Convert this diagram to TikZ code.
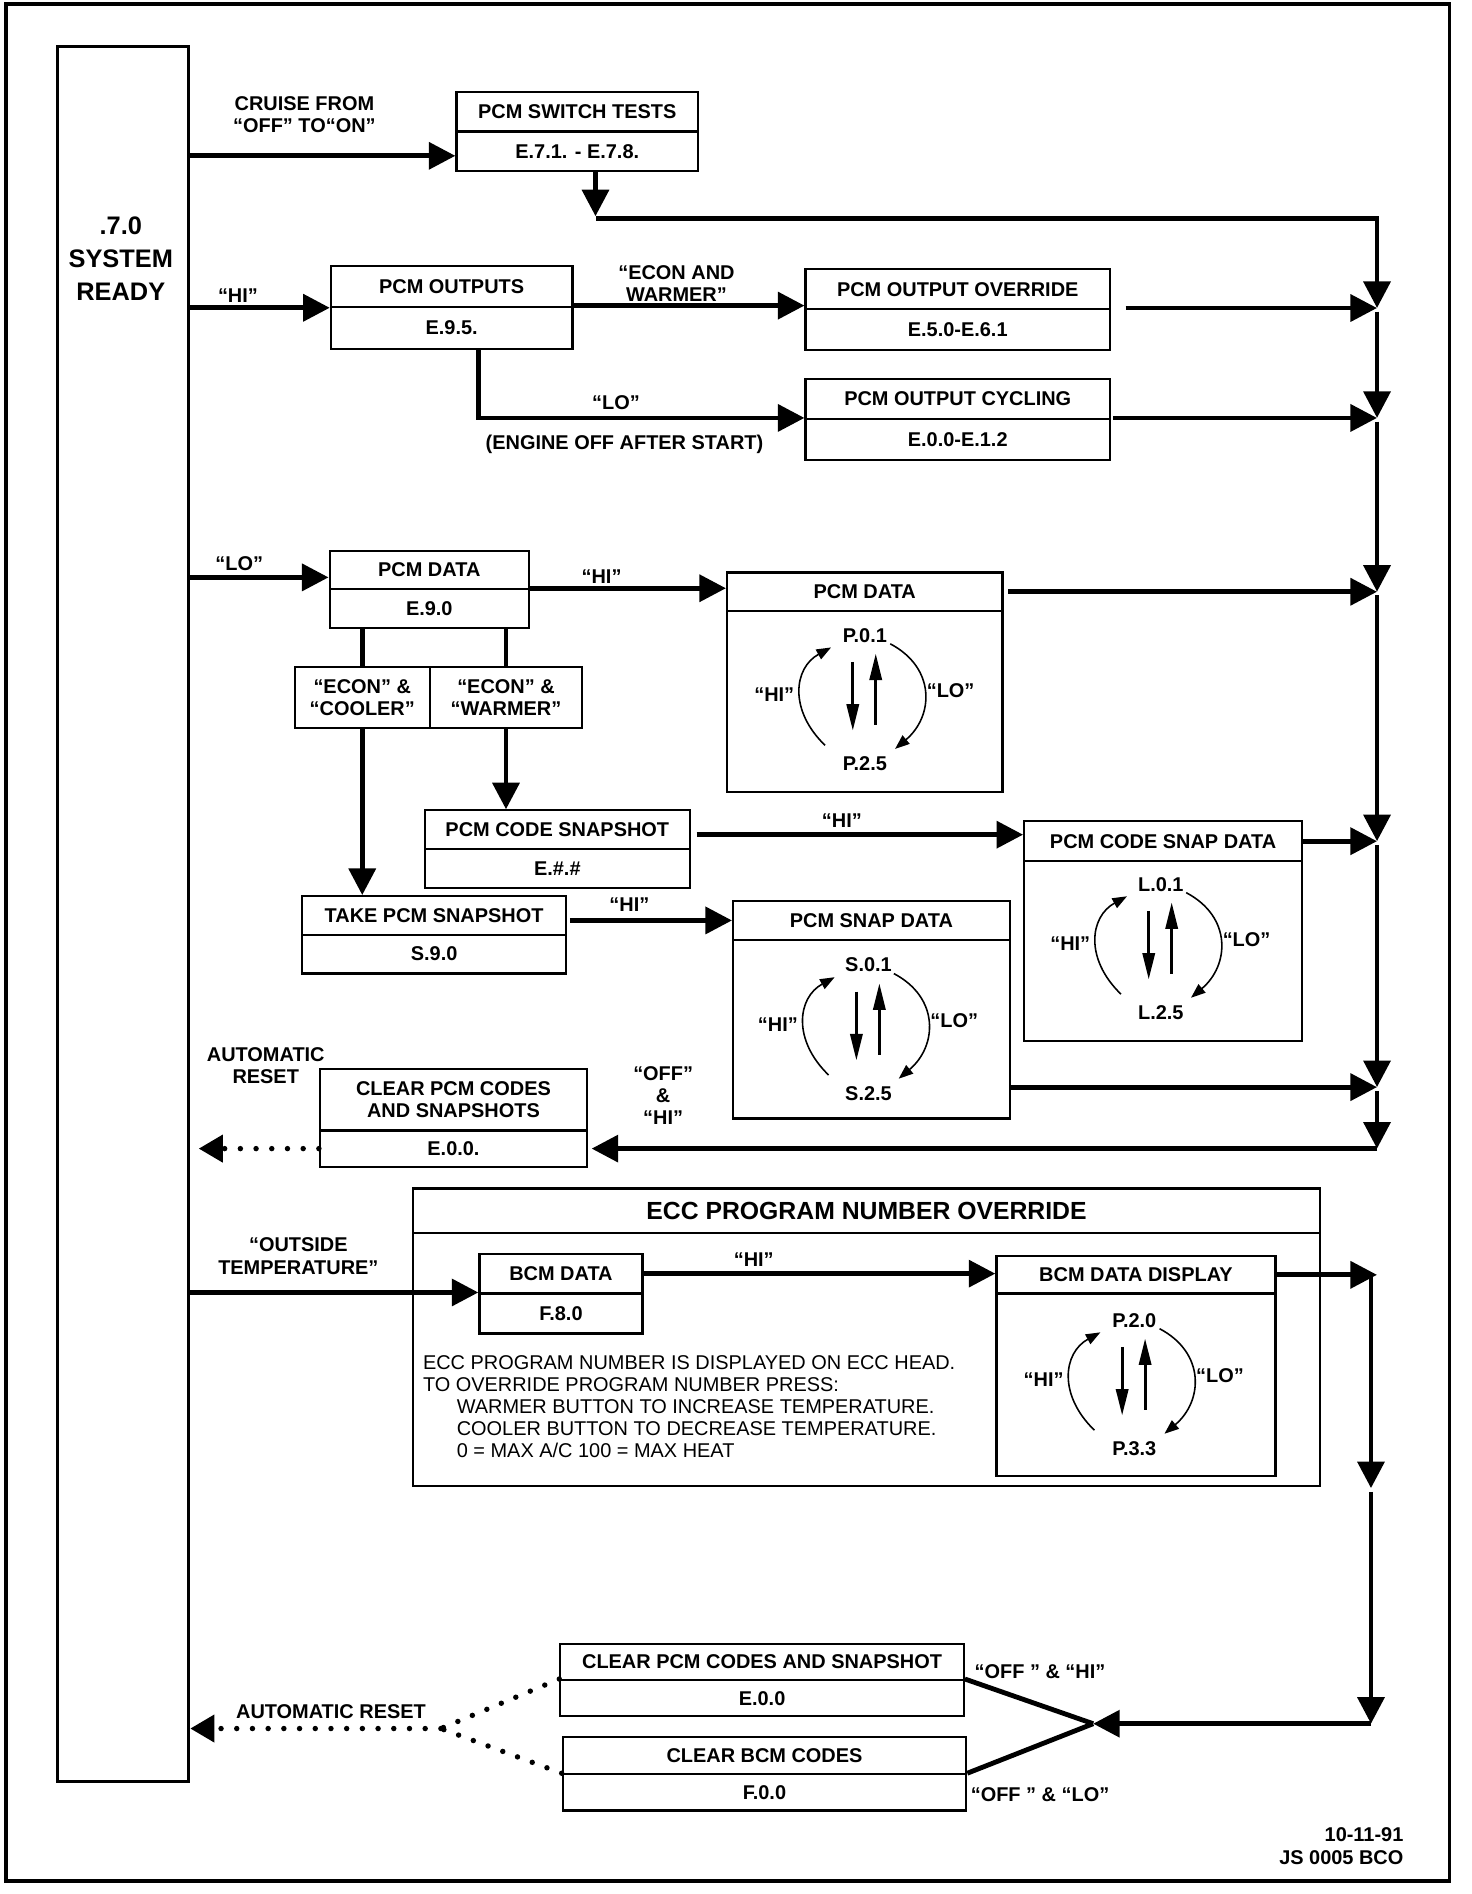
\documentclass[tikz,border=0pt]{standalone}
\usepackage{fontspec}
\setmainfont{Liberation Sans}
\usetikzlibrary{arrows.meta,calc}
\tikzset{
  bx/.style={draw,line width=1.8pt,inner sep=0pt,align=center,font=\fontsize{16.5}{18.5}\selectfont\bfseries},
  lbl/.style={inner sep=0pt,align=center,font=\fontsize{16.5}{18.5}\selectfont\bfseries},
  ln/.style={line width=4pt},
  arr/.style={line width=4pt,-{Triangle[length=22pt,width=22pt]}},
  dotln/.style={line width=4.5pt,line cap=round,dash pattern=on 0pt off 13pt},
  dotarr/.style={dotln,-{Triangle[length=20pt,width=22pt]}},
  sarr/.style={line width=2.6pt,-{Triangle[length=22pt,width=10pt]}},
  carr/.style={line width=1.3pt,-{Triangle[length=12pt,width=9pt]}},
}
\newcommand\bxn[6]{%
  \pgfmathsetmacro\mybw{#4-#2}\pgfmathsetmacro\mybh{#5-#3}%
  \node[bx,minimum width=\mybw pt,minimum height=\mybh pt,anchor=north west] (#1) at (#2,#3) {#6};}
\newcommand\loopd[5]{%
  \begin{scope}[shift={(#2,#3)}]
    \node[lbl] (#1t) at (1,-52) {#4};
    \node[lbl] (#1b) at (1,54) {#5};
    \node[lbl] (#1h) at (-74,-3) {“HI”};
    \node[lbl] (#1l) at (72,-6) {“LO”};
    \draw[sarr] (-9,-30) -- (-9,27);
    \draw[sarr] (10,22) -- (10,-37);
    \draw[carr] (-32,39) .. controls (-62,10) and (-58,-25) .. (-27,-42);
    \draw[carr] (22,-45) .. controls (60,-25) and (58,15) .. (26,42);
  \end{scope}}
\begin{document}
\begin{tikzpicture}[x=1pt,y=-1pt]
\useasboundingbox (0,0) rectangle (1218,1568);
% outer frame
\draw[line width=3.2pt] (5,3) rectangle (1200,1557);
% system ready
\node[draw,line width=2.5pt,minimum width=109pt,minimum height=1437pt,anchor=north west,inner sep=0pt] (ready) at (46,37) {};
\node[lbl,font=\fontsize{21}{27.5}\selectfont\bfseries] (rtxt) at (100,214) {.7.0\\SYSTEM\\READY};

% boxes
\bxn{sw}{377}{75}{577}{108}{PCM SWITCH TESTS}
\bxn{sws}{377}{108}{577}{141}{E.7.1. - E.7.8.}
\bxn{po}{273}{219}{473}{253}{PCM OUTPUTS}
\bxn{pos}{273}{253}{473}{288}{E.9.5.}
\bxn{ov}{666}{222}{918}{255}{PCM OUTPUT OVERRIDE}
\bxn{ovs}{666}{255}{918}{289}{E.5.0-E.6.1}
\bxn{cy}{666}{313}{918}{346}{PCM OUTPUT CYCLING}
\bxn{cys}{666}{346}{918}{380}{E.0.0-E.1.2}
\bxn{pd}{272}{455}{437}{487}{PCM DATA}
\bxn{pds}{272}{487}{437}{519}{E.9.0}
\bxn{ec}{243}{551}{355}{602}{“ECON” \&\\“COOLER”}
\bxn{ew}{355}{551}{481}{602}{“ECON” \&\\“WARMER”}
\bxn{cs}{351}{670}{570}{702}{PCM CODE SNAPSHOT}
\bxn{css}{351}{702}{570}{734}{E.\#.\#}
\bxn{tk}{249}{741}{468}{773}{TAKE PCM SNAPSHOT}
\bxn{tks}{249}{773}{468}{805}{S.9.0}
\bxn{pdd}{601}{473}{829}{505}{PCM DATA}
\bxn{pddb}{601}{505}{829}{655}{}
\bxn{csd}{847}{679}{1077}{712}{PCM CODE SNAP DATA}
\bxn{csdb}{847}{712}{1077}{861}{}
\bxn{sd}{606}{745}{835}{777}{PCM SNAP DATA}
\bxn{sdb}{606}{777}{835}{925}{}
\bxn{cl}{264}{884}{485}{935}{CLEAR PCM CODES\\AND SNAPSHOTS}
\bxn{cls}{264}{935}{485}{965}{E.0.0.}
\node[bx,font=\fontsize{20.5}{23}\selectfont\bfseries,minimum width=751pt,minimum height=37pt,anchor=north west] (ecc) at (341,983) {ECC PROGRAM NUMBER OVERRIDE};
\bxn{eccb}{341}{1020}{1092}{1229}{}
\bxn{bd}{396}{1037}{531}{1070}{BCM DATA}
\bxn{bds}{396}{1070}{531}{1103}{F.8.0}
\bxn{bdd}{824}{1039}{1055}{1070}{BCM DATA DISPLAY}
\bxn{bddb}{824}{1070}{1055}{1221}{}
\bxn{c1}{463}{1360}{797}{1390}{CLEAR PCM CODES AND SNAPSHOT}
\bxn{c1s}{463}{1390}{797}{1420}{E.0.0}
\bxn{c2}{465}{1437}{799}{1468}{CLEAR BCM CODES}
\bxn{c2s}{465}{1468}{799}{1498}{F.0.0}

\node[anchor=north west,inner sep=0pt,align=left,font=\fontsize{16.5}{18.3}\selectfont] (note) at (350,1122)
 {ECC PROGRAM NUMBER IS DISPLAYED ON ECC HEAD.\\TO OVERRIDE PROGRAM NUMBER PRESS:\\\hspace*{28pt}WARMER BUTTON TO INCREASE TEMPERATURE.\\\hspace*{28pt}COOLER BUTTON TO DECREASE TEMPERATURE.\\\hspace*{28pt}0 = MAX A/C 100 = MAX HEAT};

% loop diagrams
\loopd{a}{715}{578}{P.0.1}{P.2.5}
\loopd{b}{960}{784}{L.0.1}{L.2.5}
\loopd{c}{718}{851}{S.0.1}{S.2.5}
\loopd{d}{938}{1145}{P.2.0}{P.3.3}

% labels
\node[lbl] (lcr) at (252,95) {CRUISE FROM\\“OFF” TO“ON”};
\node[lbl] (lhi1) at (197,245) {“HI”};
\node[lbl] (lew) at (560,235) {“ECON AND\\WARMER”};
\node[lbl] (llo1) at (510,333) {“LO”};
\node[lbl] (leng) at (517,368) {(ENGINE OFF AFTER START)};
\node[lbl] (llo2) at (198,467) {“LO”};
\node[lbl] (lhi2) at (498,477) {“HI”};
\node[lbl] (lhi3) at (697,679) {“HI”};
\node[lbl] (lhi4) at (521,749) {“HI”};
\node[lbl] (lauto) at (220,882) {AUTOMATIC\\RESET};
\node[lbl] (loffhi) at (549,907) {“OFF”\\\&\\“HI”};
\node[lbl] (lout) at (247,1040) {“OUTSIDE\\TEMPERATURE”};
\node[lbl] (lhi5) at (624,1043) {“HI”};
\node[lbl] (loh) at (861,1384) {“OFF ” \& “HI”};
\node[lbl] (lol) at (861,1486) {“OFF ” \& “LO”};
\node[lbl] (lar) at (274,1417) {AUTOMATIC RESET};
\node[lbl,anchor=east] (d1) at (1162,1519) {10-11-91};
\node[lbl,anchor=east] (d2) at (1162,1538) {JS 0005 BCO};

% connectors row 1
\draw[arr] (ready.east |- 0,129) -- (0,129 -| sws.west);
\coordinate (sdn) at (493,179);
\coordinate (tA) at (1140,181);
\draw[arr] (sws.south -| sdn) -- (sdn);
\coordinate (t1) at (tA |- ovs.north east);
\coordinate (t2) at (tA |- cys.north east);
\coordinate (t3) at (tA |- pdd.east);
\coordinate (t4) at (tA |- csd.east);
\coordinate (t5) at (1140,900);
\coordinate (t6) at (tA |- cls.east);
\draw[arr] (sdn |- tA) -- (tA) -- (t1);
\draw[arr,shorten <=3pt] (t1) -- (t2);
\draw[arr,shorten <=3pt] (t2) -- (t3);
\draw[arr,shorten <=3pt] (t3) -- (t4);
\draw[arr,shorten <=3pt] (t4) -- (t5);
\draw[arr,shorten <=3pt] (t5) -- (t6);
% row 2
\draw[arr] (ready.east |- po.south west) -- (po.south west);
\draw[arr] (pos.north east) -- (pos.north east -| ov.west);
\draw[arr,shorten <=12pt] (ovs.north east) -- (t1);
\coordinate (pLO) at (396,346);
\draw[arr] (pos.south -| pLO) -- (pLO) -- (cys.north west);
\draw[arr,shorten <=2pt] (cys.north east) -- (t2);
% row 3
\draw[arr] (ready.east |- 0,478) -- (0,478 -| pd.west);
\draw[arr] (pds.north east) -- (pds.north east -| pdd.west);
\draw[arr,shorten <=4pt] (pdd.east) -- (t3);
\draw[ln] (pds.south -| ec.north) -- (ec.north);
\draw[ln] (pds.south -| ew.north) -- (ew.north);
\draw[arr] (ec.south) -- (ec.south |- tk.north);
\draw[arr] (ew.south) -- (ew.south |- cs.north);
\draw[arr,shorten <=5pt] (cs.east |- 0,691) -- (0,691 -| csd.west);
\draw[arr] (csd.east) -- (t4);
\draw[arr,shorten <=2pt] (tk.east |- 0,762) -- (0,762 -| sd.west);
\draw[arr] (sdb.east |- t5) -- (t5);
\draw[arr,shorten >=3pt] (t6) -- (cls.east);
\draw[dotarr,shorten >=7pt] (cls.west) -- (ready.east |- cls.west);
% BCM
\draw[arr] (ready.east |- bds.north west) -- (bds.north west);
\draw[arr] (bd.east) -- (bd.east -| bdd.west);
\coordinate (u1) at (bdd.east -| tA);
\coordinate (u2) at (1135,1232);
\coordinate (u3) at (1135,1427);
\coordinate (xp) at (905,1427);
\draw[arr] (bdd.east) -- (u1);
\draw[arr] (u1 -| u2) -- (u2);
\draw[arr,shorten <=3pt] (u2) -- (u3);
\draw[arr] (u3) -- (xp);
\draw[ln] (c1s.north east) -- (xp);
\draw[ln] (c2s.north east) -- (xp);
\coordinate (rp) at (365,1431);
\draw[dotln] (c1s.north west) -- (rp);
\draw[dotln] (c2s.north west) -- (rp);
\draw[dotarr] (rp) -- (ready.east |- rp);
\end{tikzpicture}
\end{document}
